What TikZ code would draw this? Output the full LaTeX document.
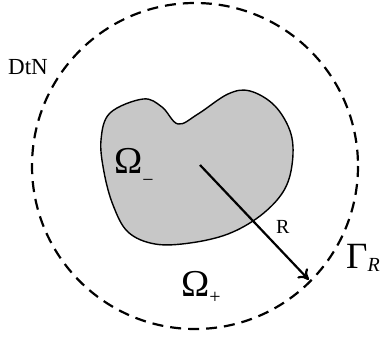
\documentclass[tikz,border=0pt]{standalone}
\usepackage{fontspec}
\setmainfont{Liberation Serif}
\usetikzlibrary{arrows.meta,calc}

\begin{document}
\begin{tikzpicture}[
x=1pt, y=-1pt,
lbl/.style={inner sep=0pt, anchor=base west},
bdry/.style={line width=2.2pt, dash pattern=on 11pt off 7pt},
obst/.style={draw, line width=1.4pt, fill=black!22},
arr/.style={-{To[length=10pt,width=14pt]}, line width=2.2pt},
]
\useasboundingbox (0,0) rectangle (387,337);
\coordinate (c) at (195,166);
\draw[bdry] (c) circle[radius=163];
\draw[obst] plot[smooth cycle, tension=0.6] coordinates {
  (101,140) (110,113) (143,99) (162,107) (178,124) (198,114)
  (228,94) (250,91) (275,106) (291,134) (292,165) (283,192)
  (260,216) (228,234) (190,243) (155,244) (128,232) (113,205) (104,172)};
\coordinate (start) at (200,165);
\coordinate (rim) at ($(c)+(45:161)$);
\draw[arr] (start) -- (rim);
\node[lbl, font=\fontsize{23}{23}\selectfont] (dtn) at (8,74) {DtN};
\node[lbl, font=\fontsize{38}{38}\selectfont] (ominus) at (114,173) {Ω\raisebox{-13pt}{\fontsize{20}{20}\selectfont −}};
\node[lbl, font=\fontsize{38}{38}\selectfont] (oplus) at (181,296) {Ω\raisebox{-7pt}{\fontsize{20}{20}\selectfont +}};
\node[lbl, font=\fontsize{20}{20}\selectfont] (rad) at (276,233) {R};
\node[lbl, font=\fontsize{37}{37}\selectfont] (gam) at (346,268) {Γ\raisebox{-3pt}{\fontsize{20}{20}\selectfont\itshape R}};
\end{tikzpicture}
\end{document}
